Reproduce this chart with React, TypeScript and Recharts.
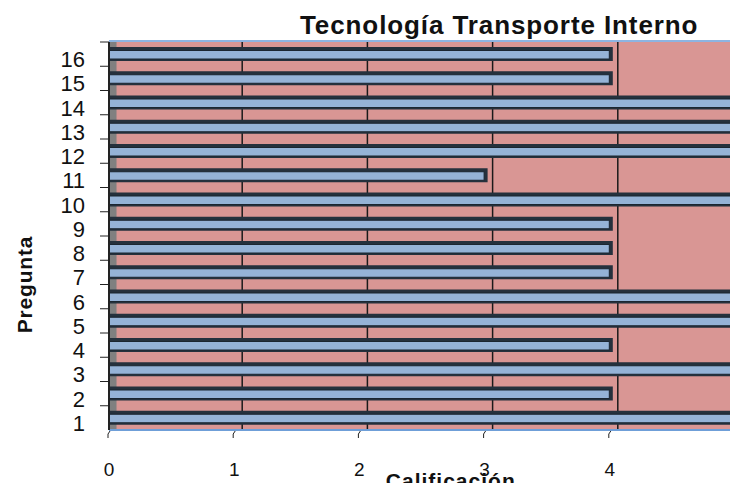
import React from 'react';
import { BarChart, Bar, XAxis, YAxis, CartesianGrid, Label, ReferenceArea } from 'recharts';

const preguntas = ['16', '15', '14', '13', '12', '11', '10', '9', '8', '7', '6', '5', '4', '3', '2', '1'];
const calificacion = [4, 4, 5, 5, 5, 3, 5, 4, 4, 4, 5, 5, 4, 5, 4, 5];
const xTicks = [0, 1, 2, 3, 4, 5];
const title = 'Tecnología Transporte Interno';
const xTitle = 'Calificación';
const yTitle = 'Pregunta';

const data = preguntas.map((p, i) => ({ pregunta: p, valor: calificacion[i] }));

const W = 738;
const H = 491;
const MARGIN = { top: 42, right: 3, bottom: 0, left: 0 };
const YAXIS_W = 109;
const XAXIS_H = 61;
const DEPTH = 8;
const PINK = '#D99694';
const BLUE = '#95B3D7';
const DARK = '#25313d';
const FONT = '"Liberation Sans", Arial, sans-serif';

const BarShape = (props: any) => {
  const { x, y, width, height } = props;
  if (width <= 0) return null;
  return (
    <g>
      <rect x={x} y={y} width={width + 3} height={height} fill={DARK} />
      <rect x={x + 0.5} y={y + 3.5} width={width - 1} height={height - 5.5} fill={BLUE} stroke="#1b2631" strokeWidth={1} />
    </g>
  );
};

const plotH = H - MARGIN.top - XAXIS_H;
const band = plotH / preguntas.length;

const YTick = (props: any) => {
  const { x, y, payload } = props;
  return (
    <g>
      <line x1={YAXIS_W - 9} x2={YAXIS_W} y1={y - band / 2} y2={y - band / 2} stroke="#222" strokeWidth={1} />
      <text x={x} y={y} dy={13} textAnchor="end" fontSize={22} fill="#111" fontFamily={FONT}>
        {payload.value}
      </text>
    </g>
  );
};

const XTick = (props: any) => {
  const { x, y, payload } = props;
  return (
    <g>
      <path d={`M${x + 1},${y - 30} L${x - 1},${y - 27} L${x - 1},${y - 23}`} stroke="#222" fill="none" strokeWidth={1} />
      <text x={x} y={y} dy={15} textAnchor="middle" fontSize={19} fill="#111" fontFamily={FONT}>
        {payload.value}
      </text>
    </g>
  );
};

export default function App() {
  return (
    <div style={{ position: 'relative', width: W, height: H, margin: -8, background: '#fff', overflow: 'hidden' }}>
      <div
        style={{
          position: 'absolute',
          left: 300,
          top: 8,
          fontFamily: FONT,
          fontWeight: 'bold',
          fontSize: 26,
          letterSpacing: 0.9,
          color: '#111',
          whiteSpace: 'nowrap',
          lineHeight: '34px',
          zIndex: 2,
        }}
      >
        {title}
      </div>
      <BarChart
        width={W}
        height={H}
        data={data}
        layout="vertical"
        margin={MARGIN}
        barSize={14}
      >
        <CartesianGrid
          horizontal={false}
          vertical={true}
          fill={PINK}
          stroke="#1a1a1a"
          strokeWidth={1.5}
          verticalCoordinatesGenerator={({ offset }: any) =>
            xTicks.slice(1, -1).map((v) => offset.left + (v / 5) * offset.width + DEPTH)
          }
        />
        <CartesianGrid
          horizontal={true}
          vertical={false}
          stroke="#8db4e2"
          strokeWidth={2}
          horizontalCoordinatesGenerator={({ offset }: any) => [offset.top - 1]}
        />
        <ReferenceArea x1={0} x2={0.06} fill="#808080" fillOpacity={1} stroke="none" ifOverflow="visible" />
        <XAxis
          type="number"
          domain={[0, 5]}
          ticks={xTicks}
          height={XAXIS_H}
          axisLine={{ stroke: '#6f9fd8', strokeWidth: 2 }}
          tickLine={false}
          tickSize={0}
          tickMargin={31}
          tick={<XTick />}
          interval={0}
        >
          <Label
            content={({ viewBox }: any) => (
              <text
                x={viewBox.x + viewBox.width * 0.546}
                y={viewBox.y + 58}
                textAnchor="middle"
                fontSize={21}
                letterSpacing={1}
                fontWeight="bold"
                fill="#111"
                fontFamily={FONT}
              >
                {xTitle}
              </text>
            )}
          />
        </XAxis>
        <YAxis
          type="category"
          dataKey="pregunta"
          width={YAXIS_W}
          axisLine={{ stroke: '#222', strokeWidth: 2 }}
          tickLine={false}
          tickSize={0}
          tickMargin={24}
          tick={<YTick />}
          interval={0}
        >
          <Label
            content={({ viewBox }: any) => {
              const cx = 24;
              const cy = viewBox.y + viewBox.height * 0.625;
              return (
                <text
                  x={cx}
                  y={cy}
                  transform={`rotate(-90, ${cx}, ${cy})`}
                  textAnchor="middle"
                  dominantBaseline="central"
                  fontSize={21}
                  letterSpacing={0.8}
                  fontWeight="bold"
                  fill="#111"
                  fontFamily={FONT}
                >
                  {yTitle}
                </text>
              );
            }}
          />
        </YAxis>
        <Bar dataKey="valor" isAnimationActive={false} shape={<BarShape />} />
      </BarChart>
    </div>
  );
}
